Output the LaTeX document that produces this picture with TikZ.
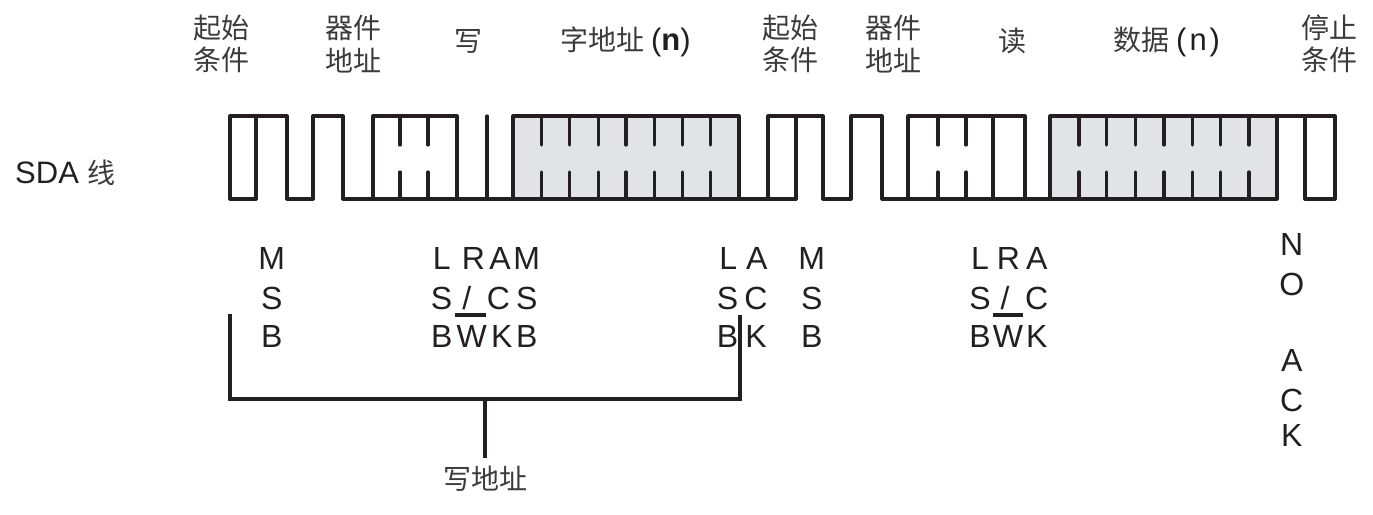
\documentclass[tikz,border=0pt]{standalone}
\usepackage{fontspec}
\setmainfont{Liberation Sans}
\newfontfamily\cjk{Noto Sans CJK SC}
\definecolor{ink}{RGB}{35,31,32}
\definecolor{databg}{RGB}{226,227,231}
\begin{document}
\begin{tikzpicture}[x=1pt,y=-1pt,
  wave/.style={draw=ink,line width=3.2pt,line cap=round,line join=round},
  lt/.style={font=\fontsize{32}{38}\selectfont,inner sep=0pt,anchor=base,text=ink},
  cn/.style={font=\cjk\fontsize{28}{32.2}\selectfont,align=center,inner sep=0pt,text=ink!88}]
\useasboundingbox (0,0) rectangle (1373,514);

% grey data blocks
\fill[databg] (513,116) rectangle (739,199);
\fill[databg] (1050,116) rectangle (1277,199);

% waveform
\draw[wave] (256,199)--(230,199)--(230,116)--(287,116)--(287,199)--(313,199)--(313,116)--(343,116)--(343,199)--(796,199);
\draw[wave] (256,116)--(256,199);
\draw[wave] (373,199)--(373,116)--(457,116)--(457,199);
\draw[wave] (487,116)--(487,199);
\draw[wave] (513,199)--(513,116)--(739,116)--(739,199);
\draw[wave] (768,199)--(768,116)--(823,116)--(823,199)--(851,199)--(851,116)--(882,116)--(882,199)--(1277,199)--(1277,116);
\draw[wave] (796,116)--(796,199);
\draw[wave] (908,199)--(908,116)--(1025,116)--(1025,199);
\draw[wave] (993,116)--(993,199);
\draw[wave] (1050,199)--(1050,116)--(1335,116)--(1335,199)--(1305,199)--(1305,116);
\foreach \x in {400,428,541.3,569.3,598.3,626,654.3,682.7,710.7,938,966,1079,1106.7,1135.7,1164,1192.3,1220.7,1249}{
  \draw[wave] (\x,116)--(\x,145);
  \draw[wave] (\x,172)--(\x,199);
}

% top labels
\node[cn] (t1) at (221.7,44) {起始\\条件};
\node[cn] (t2) at (353.3,44) {器件\\地址};
\node[cn] (t3) at (468.3,41) {写};
\node[cn] (t4) at (625.8,41.5) {字地址 {\rmfamily\fontsize{31}{32}\selectfont\color{ink}(\textbf{n})}};
\node[cn] (t5) at (790.4,44) {起始\\条件};
\node[cn] (t6) at (893,44) {器件\\地址};
\node[cn] (t7) at (1012,41) {读};
\node[cn] (t8) at (1167,41.5) {数据 {\rmfamily\fontsize{31}{32}\selectfont\color{ink}(\hspace{3pt}n\hspace{3pt})}};
\node[cn] (t9) at (1329.5,44) {停止\\条件};

% SDA label
\node[font=\fontsize{31}{36}\selectfont,inner sep=0pt,anchor=base west,text=ink] (sda) at (15,183) {SDA {\cjk\fontsize{28}{30}\selectfont\color{ink!88}线}};

% bit labels, group 1
\node[lt] (a1) at (271.7,269.5) {M};
\node[lt] (a2) at (271.7,309) {S};
\node[lt] (a3) at (271.7,347.5) {B};
% group 2
\node[lt] (b1) at (441.7,269.5) {L};
\node[lt] (b2) at (473.3,269.5) {R};
\node[lt] (b3) at (500,269.5) {A};
\node[lt] (b4) at (526.7,269.5) {M};
\node[lt] (b5) at (441.5,309) {S};
\node[lt] (b6) at (466.7,309) {/};
\node[lt] (b7) at (498.3,309) {C};
\node[lt] (b8) at (526.7,309) {S};
\node[lt] (b9) at (441.7,347.5) {B};
\node[lt] (b10) at (471.7,347.5) {W};
\node[lt] (b11) at (501.7,347.5) {K};
\node[lt] (b12) at (526.7,347.5) {B};
\draw[ink,line width=3.2pt] (455,315)--(486,315);
% group 3
\node[lt] (c1) at (728.3,269.5) {L};
\node[lt] (c2) at (756.7,269.5) {A};
\node[lt] (c3) at (727.5,309) {S};
\node[lt] (c4) at (756,309) {C};
\node[lt] (c5) at (727.5,347.5) {B};
\node[lt] (c6) at (756,347.5) {K};
% group 4
\node[lt] (d1) at (811.7,269.5) {M};
\node[lt] (d2) at (811.7,309) {S};
\node[lt] (d3) at (811.7,347.5) {B};
% group 5
\node[lt] (e1) at (980,269.5) {L};
\node[lt] (e2) at (1008.3,269.5) {R};
\node[lt] (e3) at (1036.7,269.5) {A};
\node[lt] (e4) at (980,309) {S};
\node[lt] (e5) at (1005,309) {/};
\node[lt] (e6) at (1036.7,309) {C};
\node[lt] (e7) at (980,347.5) {B};
\node[lt] (e8) at (1008,347.5) {W};
\node[lt] (e9) at (1036.7,347.5) {K};
\draw[ink,line width=3.2pt] (993,315)--(1023,315);
% NO ACK
\node[lt] (f1) at (1291.7,255) {N};
\node[lt] (f2) at (1291.7,295) {O};
\node[lt] (f3) at (1291.7,371.7) {A};
\node[lt] (f4) at (1291.7,411) {C};
\node[lt] (f5) at (1291.7,446.7) {K};

% bracket "写地址"
\coordinate (bl) at (230,314);
\coordinate (br) at (740,315);
\coordinate (bm) at (485,399);
\node[cn] (wa) at (485,479) {写地址};
\draw[ink,line width=3.2pt,line join=miter] (bl) -- (230,399) -- (740,399) -- (br);
\draw[ink,line width=3.2pt,shorten >=8pt] (bm) -- (wa.north);
\end{tikzpicture}
\end{document}
